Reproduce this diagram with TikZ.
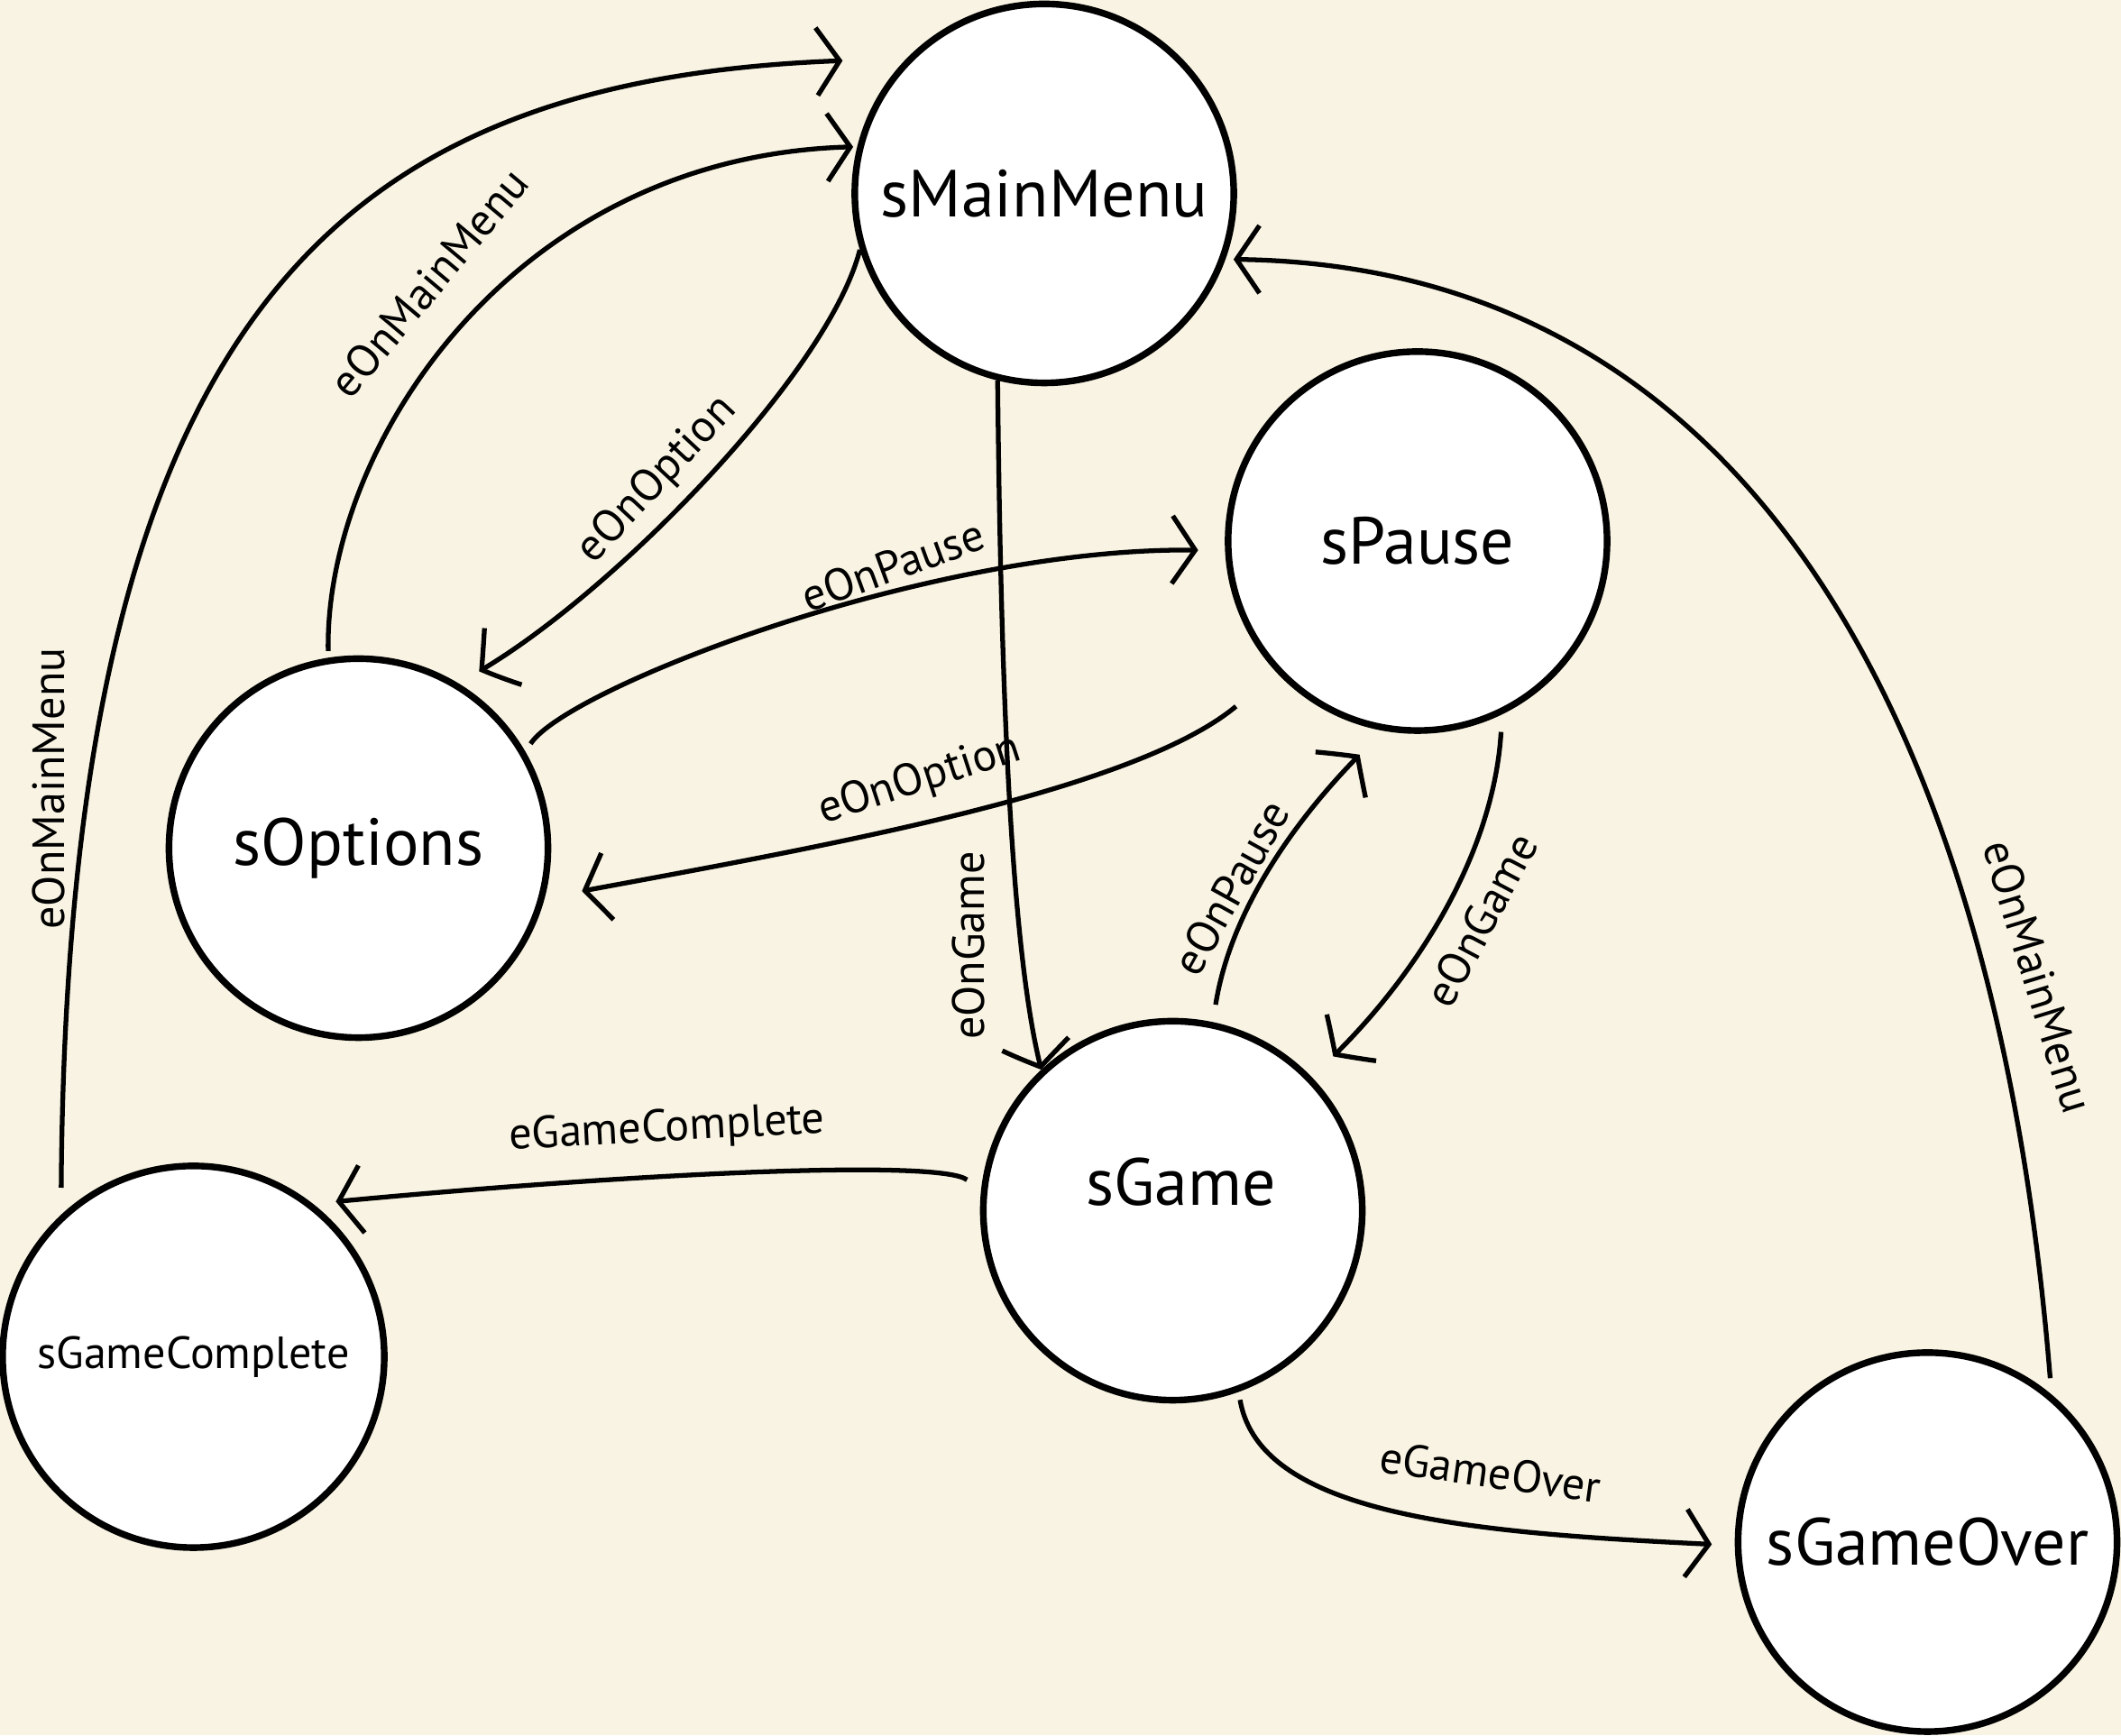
\documentclass[tikz,border=0pt]{standalone}
\usepackage{fontspec}
\setmainfont{PT Sans}
\usetikzlibrary{arrows.meta,bending}
\definecolor{paper}{HTML}{F8F3E2}

\begin{document}
\begin{tikzpicture}
  [x=0.01cm,y=-0.01cm,
   state/.style={circle,draw,line width=1.4pt,fill=white,minimum size=2.8cm,inner sep=0pt,
     font=\fontsize{14}{16}\selectfont},
   event/.style={inner sep=0pt,font=\fontsize{9.5}{11}\selectfont}]
 \tikzset{EdgeStyle/.style={line width=1pt,-{Straight Barb[length=0.17cm,width=0.5cm]}},
   BentStyle/.style={line width=1pt,-{Straight Barb[length=0.17cm,width=0.5cm,bend]}}}

 \fill[paper] (0,0) rectangle (1568,1283);
 \useasboundingbox (0,0) rectangle (1568,1283);

 \node[state] (sMain) at (772,143) {sMainMenu};
 \node[state] (sPause) at (1048,400) {sPause};
 \node[state] (sOptions) at (265,627) {sOptions};
 \node[state] (sGame) at (867,895) {};
 \node[font=\fontsize{14}{16}\selectfont,inner sep=0pt] (tGame) at (873,874) {sGame};
 \node[state,minimum size=2.82cm,font=\fontsize{9.5}{11}\selectfont] (sComplete) at (143,1003) {sGameComplete};
 \node[state] (sOver) at (1425,1140) {sGameOver};

 % back to the main menu
 \draw[EdgeStyle,shorten <=0.2cm,shorten >=0.47cm] (sComplete.133) .. controls (50,200) and (270,45) .. (sMain.136);
 \draw[EdgeStyle,shorten <=0.05cm,shorten >=0.03cm] (sOptions.99) .. controls (240,330) and (380,112) .. (sMain.166);
 \draw[EdgeStyle,shorten <=0.12cm,shorten >=0.06cm] (sOver.50) .. controls (1478,554) and (1304,191) .. (sMain.340);

 % options
 \draw[BentStyle,shorten >=0.18cm] (sMain.197) .. controls (611,281) and (435,457) .. (sOptions.59);
 \draw[EdgeStyle,shorten <=0.39cm,shorten >=0.28cm] (sPause.223) .. controls (831,591) and (577,631) .. (sOptions.345);

 % pause
 \draw[EdgeStyle,shorten <=0.07cm,shorten >=0.2cm] (sOptions.30) .. controls (420,507) and (709,396) .. (sPause.183);
 \draw[BentStyle,shorten <=0.13cm,shorten >=0.25cm] (sGame.78) .. controls (912,659) and (974,586) .. (sPause.260);

 % game
 \draw[BentStyle] (sMain.256) .. controls (740,520) and (748,706) .. (sGame.133);
 \draw[BentStyle,shorten <=0.13cm,shorten >=0.22cm] (sPause.296) .. controls (1104,636) and (1042,731) .. (sGame.44);

 % end of game
 \draw[EdgeStyle,shorten <=0.13cm,shorten >=0.17cm] (sGame.174) .. controls (695,857) and (479,866) .. (sComplete.52);
 \draw[EdgeStyle,shorten <=0.06cm,shorten >=0.17cm] (sGame.290) .. controls (932,1125) and (1105,1134) .. (sOver.181);

 \node[event,rotate=90] (l1) at (36,583) {eOnMainMenu};
 \node[event,rotate=50] (l2) at (317,209) {eOnMainMenu};
 \node[event,rotate=47] (l3) at (486,355) {eOnOption};
 \node[event,rotate=20] (l4) at (660,418) {eOnPause};
 \node[event,rotate=18] (l5) at (680,577) {eOnOption};
 \node[event,rotate=90] (l6) at (716,699) {eOnGame};
 \node[event,rotate=61] (l7) at (910,656) {eOnPause};
 \node[event,rotate=62] (l8) at (1095,680) {eOnGame};
 \node[event,rotate=3] (l9) at (493,835) {eGameComplete};
 \node[event,rotate=-8] (l10) at (1102,1088) {eGameOver};
 \node[event,rotate=-73] (l11) at (1507,722) {eOnMainMenu};

\end{tikzpicture}
\end{document}
